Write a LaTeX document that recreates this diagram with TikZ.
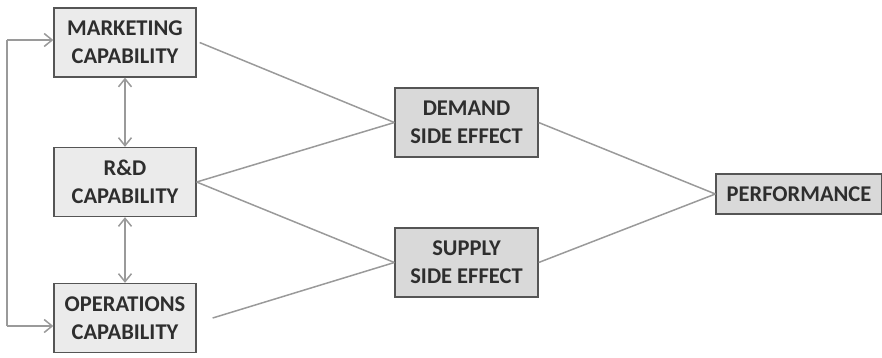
\documentclass[tikz,border=0pt]{standalone}
\usepackage{fontspec}
\setmainfont{Carlito}
\usetikzlibrary{arrows.meta}
\definecolor{boxA}{HTML}{EBEBEB}
\definecolor{boxB}{HTML}{D9D9D9}
\definecolor{edge}{HTML}{555555}
\definecolor{conn}{HTML}{9A9A9A}
\definecolor{txt}{HTML}{2E2E2E}
\begin{document}
\begin{tikzpicture}[x=1pt,y=-1pt,
  box/.style={draw=edge,line width=1.3pt,inner sep=0pt,align=center,text=txt,
    font=\fontsize{22.5}{28}\selectfont\bfseries},
  lbox/.style={box,fill=boxA,minimum width=142pt,minimum height=69pt},
  mbox/.style={box,fill=boxB,minimum width=143pt,minimum height=69pt},
  conline/.style={draw=conn,line width=1.5pt},
  arr/.style={conline,-{Straight Barb[length=8pt,width=13pt,line width=1.5pt]}},
  darr/.style={conline,{Straight Barb[length=8pt,width=13pt,line width=1.5pt]}-{Straight Barb[length=8pt,width=13pt,line width=1.5pt]}}]
\useasboundingbox (0,0) rectangle (882,357);
\node[lbox] (mkt) at (125,42.5) {MARKETING\\CAPABILITY};
\node[lbox] (rd) at (125,182) {R\&D\\CAPABILITY};
\node[lbox] (ops) at (125,318) {OPERATIONS\\CAPABILITY};
\node[mbox] (dem) at (466.5,122.5) {DEMAND\\SIDE EFFECT};
\node[mbox] (sup) at (466.5,262.5) {SUPPLY\\SIDE EFFECT};
\node[mbox,minimum width=166pt,minimum height=40pt] (perf) at (799,194) {PERFORMANCE};
\coordinate (fbtop) at (7,40);
\coordinate (fbbot) at (7,326);
\draw[conline] (fbbot) -- (fbtop);
\draw[arr] (fbtop) -- (mkt.west |- fbtop);
\draw[arr] (fbbot) -- (ops.west |- fbbot);
\draw[darr] (mkt.south) -- (rd.north);
\draw[darr] (rd.south) -- (ops.north);
\draw[conline] ([xshift=3pt]mkt.east) -- (dem.west);
\draw[conline] (rd.east) -- (dem.west);
\draw[conline] (rd.east) -- (sup.west);
\draw[conline] ([xshift=16pt]ops.east) -- (sup.west);
\draw[conline] (dem.east) -- (perf.west);
\draw[conline] (sup.east) -- (perf.west);
\end{tikzpicture}
\end{document}
